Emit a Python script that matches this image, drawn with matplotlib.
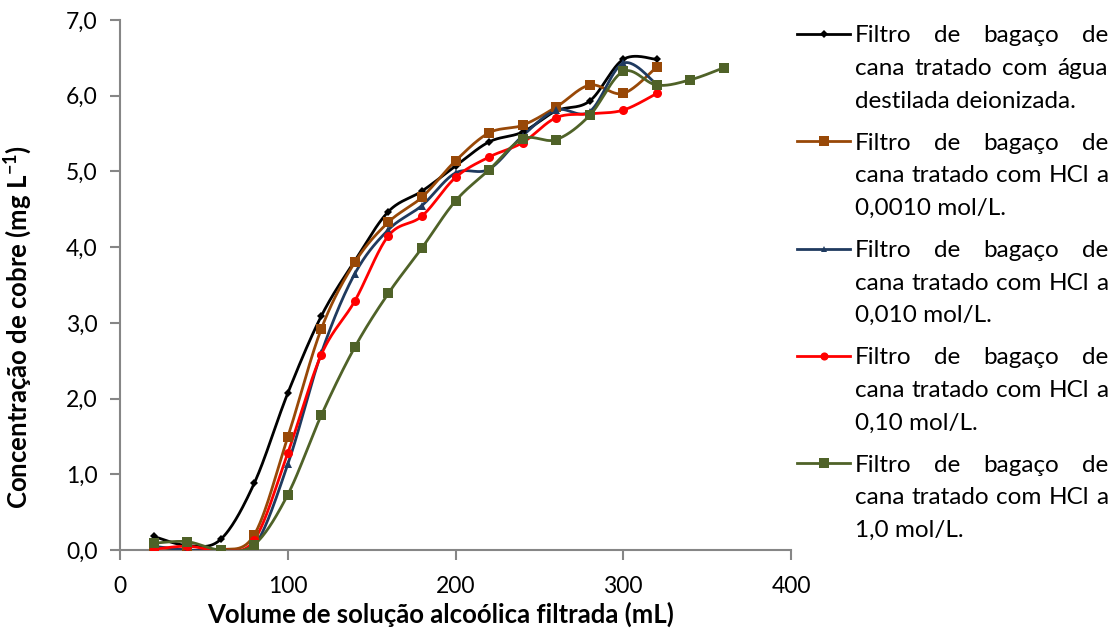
import numpy as np
import matplotlib
matplotlib.use("Agg")
import matplotlib.pyplot as plt
from matplotlib.lines import Line2D

plt.rcParams['font.family'] = ['Lato', 'DejaVu Sans']
plt.rcParams['mathtext.fontset'] = 'custom'
plt.rcParams['mathtext.rm'] = 'Lato'
plt.rcParams['mathtext.bf'] = 'Lato:bold'

# ---------------- data ----------------
volume = [20, 40, 60, 80, 100, 120, 140, 160, 180, 200, 220, 240, 260, 280, 300, 320]
volume_green = [20, 40, 60, 80, 100, 120, 140, 160, 180, 200, 220, 240, 260, 280, 300, 320, 340, 360]

agua = [0.18, 0.06, 0.14, 0.88, 2.07, 3.09, 3.82, 4.47, 4.74, 5.07, 5.39, 5.52, 5.80, 5.93, 6.48, 6.48]
hcl_0010 = [0.04, 0.00, 0.00, 0.20, 1.49, 2.92, 3.80, 4.33, 4.66, 5.14, 5.51, 5.61, 5.85, 6.14, 6.03, 6.38]
hcl_010 = [0.05, 0.00, 0.00, 0.05, 1.13, 2.60, 3.65, 4.23, 4.55, 4.98, 5.03, 5.47, 5.81, 5.79, 6.43, 6.15]
hcl_10 = [0.01, 0.05, 0.00, 0.13, 1.28, 2.58, 3.29, 4.15, 4.41, 4.92, 5.19, 5.38, 5.71, 5.76, 5.81, 6.03]
hcl_1 = [0.09, 0.11, 0.00, 0.07, 0.73, 1.78, 2.68, 3.39, 3.99, 4.61, 5.02, 5.43, 5.42, 5.74, 6.32, 6.14, 6.21, 6.37]

labels = [
    "Filtro de bagaço de cana tratado com água destilada deionizada.",
    "Filtro de bagaço de cana tratado com HCl a 0,0010 mol/L.",
    "Filtro de bagaço de cana tratado com HCl a 0,010 mol/L.",
    "Filtro de bagaço de cana tratado com HCl a 0,10 mol/L.",
    "Filtro de bagaço de cana tratado com HCl a 1,0 mol/L.",
]
legend_lines = [
    ["Filtro de bagaço de", "cana tratado com água", "destilada deionizada."],
    ["Filtro de bagaço de", "cana tratado com HCl a", "0,0010 mol/L."],
    ["Filtro de bagaço de", "cana tratado com HCl a", "0,010 mol/L."],
    ["Filtro de bagaço de", "cana tratado com HCl a", "0,10 mol/L."],
    ["Filtro de bagaço de", "cana tratado com HCl a", "1,0 mol/L."],
]

series = [
    (volume, agua, '#000000', 'D', 4.5),
    (volume, hcl_0010, '#984807', 's', 7.5),
    (volume, hcl_010, '#1F3A5F', '^', 5.5),
    (volume, hcl_10, '#FF0000', 'o', 6.5),
    (volume_green, hcl_1, '#4F6228', 's', 7.5),
]

X_MAX, Y_MAX = 400.0, 7.0

W, H = 1118, 631
fig = plt.figure(figsize=(W / 100, H / 100), dpi=100)
ax_l, ax_r, ax_t, ax_b = 120, 791, 20, 550
ax = fig.add_axes([ax_l / W, 1 - ax_b / H, (ax_r - ax_l) / W, (ax_b - ax_t) / H])


def smooth(xs, ys, sx, sy, n=30):
    """Catmull-Rom style bezier smoothing (like spreadsheet smoothed lines)."""
    P = np.column_stack([np.asarray(xs, float) * sx, np.asarray(ys, float) * sy])
    out = []
    m = len(P)
    for i in range(m - 1):
        p0 = P[i - 1] if i > 0 else P[i]
        p1, p2 = P[i], P[i + 1]
        p3 = P[i + 2] if i + 2 < m else P[i + 1]
        c1 = p1 + (p2 - p0) / 6.0
        c2 = p2 - (p3 - p1) / 6.0
        t = np.linspace(0, 1, n)[:, None]
        seg = ((1 - t) ** 3) * p1 + 3 * ((1 - t) ** 2) * t * c1 + 3 * (1 - t) * t ** 2 * c2 + t ** 3 * p2
        out.append(seg if i == 0 else seg[1:])
    pts = np.vstack(out)
    return pts[:, 0] / sx, pts[:, 1] / sy


sx = (ax_r - ax_l) / X_MAX
sy = (ax_b - ax_t) / Y_MAX
for xs, ys, col, mk, ms in series:
    cx, cy = smooth(xs, ys, sx, sy)
    ax.plot(cx, cy, color=col, lw=2.0, zorder=3, solid_capstyle='round')
    ax.plot(xs, ys, linestyle='none', marker=mk, color=col, markersize=ms,
            markeredgewidth=0, zorder=4)

ax.set_xlim(0, X_MAX)
ax.set_ylim(0, Y_MAX)
ax.set_xticks([0, 100, 200, 300, 400])
ax.set_yticks(np.arange(0, 7.01, 1.0))
ax.set_yticklabels([f"{v:.1f}".replace('.', ',') for v in np.arange(0, 7.01, 1.0)])
for s in ['top', 'right']:
    ax.spines[s].set_visible(False)
for s in ['left', 'bottom']:
    ax.spines[s].set_color('#868686')
    ax.spines[s].set_linewidth(1.5)
ax.tick_params(axis='both', direction='out', length=7, width=1.5, color='#868686',
               labelsize=16.5, labelcolor='#000000')
ax.tick_params(axis='x', pad=12)
ax.tick_params(axis='y', pad=9)
ax.set_xlabel("Volume de solução alcoólica filtrada (mL)", fontsize=18.5, fontweight='bold')
ax.set_ylabel(r"Concentração de cobre (mg L$\mathbf{^{-1}}$)", fontsize=18.5, fontweight='bold')
ax.xaxis.set_label_coords((441 - ax_l) / (ax_r - ax_l), -(602 - ax_b) / (ax_b - ax_t))
ax.yaxis.set_label_coords(-(ax_l - 34) / (ax_r - ax_l), (ax_b - 327) / (ax_b - ax_t))
ax.patch.set_visible(False)

# ---------------- legend (manual, justified text) ----------------
renderer = fig.canvas.get_renderer()
text_left, text_right = 855, 1108
line_x0, line_x1 = 797, 850
first_y = 34
entry_step = 107.3
line_step = 32.5
fs = 17.5


def px(x, y):
    return x / W, 1 - y / H


for e, (lines, (xs, ys, col, mk, ms)) in enumerate(zip(legend_lines, series)):
    y0 = first_y + e * entry_step
    fig.add_artist(Line2D([line_x0 / W, line_x1 / W], [1 - y0 / H, 1 - y0 / H], color=col, lw=2.0,
                          transform=fig.transFigure))
    fig.add_artist(Line2D([(line_x0 + line_x1) / 2 / W], [1 - y0 / H], color=col, marker=mk,
                          markersize=ms * 0.9, markeredgewidth=0, linestyle='none',
                          transform=fig.transFigure))
    for li, line in enumerate(lines):
        yy = y0 + li * line_step
        words = line.split(' ')
        last = (li == len(lines) - 1)
        if last or len(words) == 1:
            fig.text(*px(text_left, yy), line, fontsize=fs, va='center_baseline', ha='left')
            continue
        arts = [fig.text(0, 0, w, fontsize=fs, va='center_baseline', ha='left') for w in words]
        widths = [a.get_window_extent(renderer).width for a in arts]
        gap = (text_right - text_left - sum(widths)) / (len(words) - 1)
        xcur = text_left
        for a, wdt in zip(arts, widths):
            a.set_position(px(xcur, yy))
            xcur += wdt + gap

fig.savefig("out.png", dpi=100)
